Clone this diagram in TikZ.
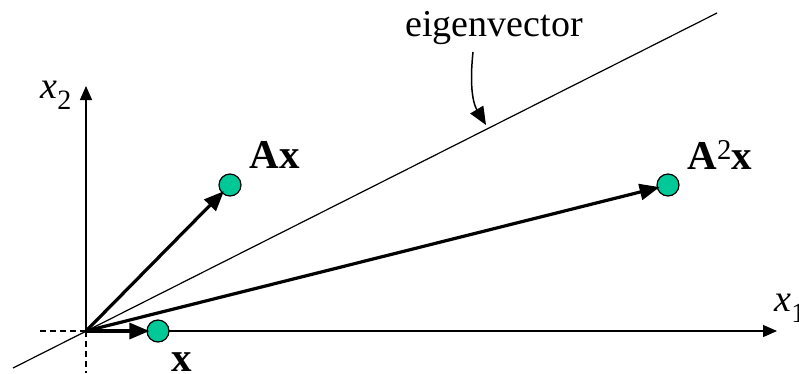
\documentclass[tikz,border=0pt]{standalone}
\usepackage{fontspec}
\setmainfont{Liberation Serif}
\usepackage{xcolor}
\usetikzlibrary{arrows.meta, positioning}
\definecolor{dotgreen}{RGB}{0,200,150}

\begin{document}
\begin{tikzpicture}[
    x=1pt, y=-1pt,
    axis/.style={line width=1.3pt, -{Triangle[length=14pt, width=12pt]}},
    vec/.style={line width=3.2pt, -{Triangle[length=20pt, width=16pt]}, shorten >=-3pt},
    pt/.style={circle, draw, line width=1.2pt, fill=dotgreen, minimum size=22pt, inner sep=0pt},
    lbl/.style={font=\fontsize{41}{44}\selectfont\bfseries},
    axlbl/.style={font=\fontsize{38}{42}\selectfont}
]
\useasboundingbox (0,0) rectangle (799,373);

% Origin and axes
\coordinate (o) at (86,331);
\coordinate (x1end) at (777,331);
\coordinate (x2end) at (86,86);
\coordinate (xneg) at (37,331);
\coordinate (yneg) at (86,373);
\draw[axis] (o) -- (x1end);
\draw[axis] (o) -- (x2end);
\draw[line width=1.1pt, dash pattern=on 6pt off 4pt] (o) -- (xneg);
\draw[line width=1.1pt, dash pattern=on 6pt off 4pt] (o) -- (yneg);
\node[axlbl] (x1lbl) at (790,308) {\itshape x\raisebox{-0.3em}{\upshape\fontsize{28}{30}\selectfont 1}};
\node[axlbl] (x2lbl) at (56,95) {\itshape x\raisebox{-0.3em}{\upshape\fontsize{28}{30}\selectfont 2}};

% Eigenvector line
\coordinate (elow) at (13,368);
\coordinate (ehigh) at (717,13);
\draw[line width=1.2pt] (elow) -- (ehigh);
\node[axlbl] (eig) at (494,28) {eigenvector};
\coordinate (eigtail) at (473,52);
\coordinate (eigtip) at (486,125);
\draw[line width=1.5pt, -{Triangle[length=18pt, width=15pt]}] (eigtail) .. controls (469,90) and (474,105) .. (eigtip);

% Points
\node[pt] (px) at (158,331) {};
\node[pt] (pax) at (230,185) {};
\node[pt] (paax) at (668,185) {};

% Vectors
\draw[vec] (o) -- (px);
\draw[vec] (o) -- (pax);
\draw[vec] (o) -- (paax);

% Labels
\node[lbl] (lx) at (182,362) {x};
\node[lbl] (lax) at (275,155) {Ax};
\node[lbl] (laax) at (720,155) {A\textsuperscript{\mdseries 2}x};

\end{tikzpicture}
\end{document}
